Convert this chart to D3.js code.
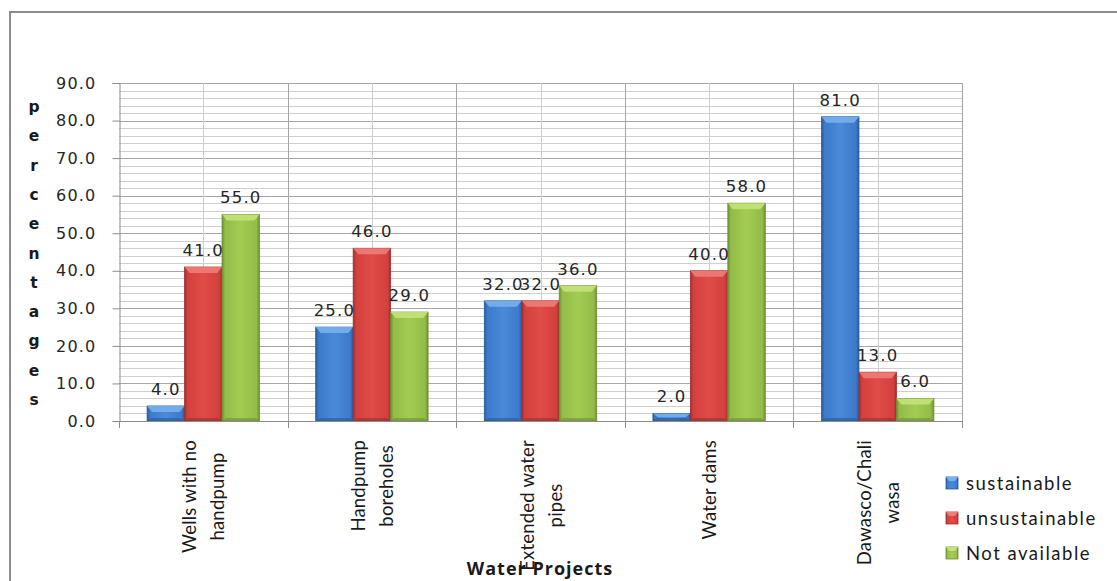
<!DOCTYPE html>
<html>
<head>
<meta charset="utf-8">
<script src="https://cdn.jsdelivr.net/npm/d3@7"></script>
<style>
  body { margin: 0; background: #fff; }
  svg { display: block; }
</style>
</head>
<body>
<script>
// chart data
const categories = ['Wells with no handpump', 'Handpump boreholes', 'Extended water pipes', 'Water dams', 'Dawasco/Chaliwasa'];
const categoryLines = [['Wells with no', 'handpump'], ['Handpump', 'boreholes'], ['Extended water', 'pipes'], ['Water dams'], ['Dawasco/Chali', 'wasa']];
const seriesNames = ['sustainable', 'unsustainable', 'Not available'];
const sustainable = [4.0, 25.0, 32.0, 2.0, 81.0];
const unsustainable = [41.0, 46.0, 32.0, 40.0, 13.0];
const notAvailable = [55.0, 29.0, 36.0, 58.0, 6.0];
const yTickValues = [0, 10, 20, 30, 40, 50, 60, 70, 80, 90];
const yTitle = 'percentages';
const xTitle = 'Water Projects';

// colours: main, edge, top bevel
const palette = [
  { main: '#3c7acb', mid: '#4a8ad8', edge: '#2a5a98', top: '#78b0ec' },
  { main: '#d3403d', mid: '#e04c48', edge: '#9e2e2c', top: '#ee7c78' },
  { main: '#93bc48', mid: '#a2cc52', edge: '#6e8f34', top: '#c4e27a' }
];

function renderChart() {
  const width = 1117;
  const height = 581;
  const plot = { left: 119, right: 962, top: 83, bottom: 421 };
  const labelTop = 440; // rotated category labels hang from here

  const svg = d3.select('body')
    .append('svg')
    .attr('width', width)
    .attr('height', height);

  // outer frame (only top and left edges visible)
  svg.append('path')
    .attr('d', `M10,${height} V12 H${width}`)
    .attr('fill', 'none')
    .attr('stroke', '#8c8c8c')
    .attr('stroke-width', 2);

  // scales
  const x0 = d3.scaleBand()
    .domain(categories)
    .range([plot.left, plot.right])
    .padding(0);

  const groupWidth = x0.bandwidth() * 3 / 4.5;
  const x1 = d3.scaleBand()
    .domain(seriesNames)
    .range([0, groupWidth]);

  const y = d3.scaleLinear()
    .domain([0, 90])
    .range([plot.bottom, plot.top]);

  const values = [sustainable, unsustainable, notAvailable];

  // gradients for the bevelled bars
  const defs = svg.append('defs');
  palette.forEach((c, i) => {
    const g = defs.append('linearGradient')
      .attr('id', 'bar' + i)
      .attr('x1', 0).attr('x2', 1).attr('y1', 0).attr('y2', 0);
    g.append('stop').attr('offset', '0%').attr('stop-color', c.edge);
    g.append('stop').attr('offset', '8%').attr('stop-color', c.main);
    g.append('stop').attr('offset', '50%').attr('stop-color', c.mid);
    g.append('stop').attr('offset', '92%').attr('stop-color', c.main);
    g.append('stop').attr('offset', '100%').attr('stop-color', c.edge);
  });

  // horizontal grid: minor every 2, major every 10
  const grid = svg.append('g');
  d3.range(0, 91, 2).forEach((v) => {
    const major = v % 10 === 0;
    grid.append('line')
      .attr('x1', plot.left).attr('x2', plot.right)
      .attr('y1', Math.round(y(v)) + 0.5).attr('y2', Math.round(y(v)) + 0.5)
      .attr('stroke', major ? '#a6a6a6' : '#cfcfcf')
      .attr('stroke-width', 1);
  });

  // vertical grid: category centres light, boundaries darker
  categories.forEach((c) => {
    const cx = x0(c) + x0.bandwidth() / 2;
    grid.append('line')
      .attr('x1', Math.round(cx) + 0.5).attr('x2', Math.round(cx) + 0.5)
      .attr('y1', plot.top).attr('y2', plot.bottom)
      .attr('stroke', '#cfcfcf');
    const bx = x0(c) + x0.bandwidth();
    grid.append('line')
      .attr('x1', Math.round(bx) + 0.5).attr('x2', Math.round(bx) + 0.5)
      .attr('y1', plot.top).attr('y2', plot.bottom)
      .attr('stroke', '#a6a6a6');
  });

  // bars
  const barsG = svg.append('g');
  categories.forEach((c, ci) => {
    const gx = x0(c) + (x0.bandwidth() - groupWidth) / 2;
    seriesNames.forEach((s, si) => {
      const v = values[si][ci];
      const bx = gx + x1(s);
      const bw = x1.bandwidth();
      const by = y(v);
      const bh = y(0) - y(v);
      const col = palette[si];
      barsG.append('rect')
        .attr('x', bx).attr('y', by)
        .attr('width', bw).attr('height', bh)
        .attr('fill', `url(#bar${si})`)
        .attr('stroke', col.edge)
        .attr('stroke-width', 0.8);
      const bev = Math.min(6, bh / 2);
      barsG.append('polygon')
        .attr('points', [
          [bx, by], [bx + bw, by], [bx + bw - 5, by + bev], [bx + 5, by + bev]
        ].map((p) => p.join(',')).join(' '))
        .attr('fill', col.top)
        .attr('opacity', 0.9);
      barsG.append('polygon')
        .attr('points', [
          [bx, y(0)], [bx + bw, y(0)], [bx + bw - 4, y(0) - Math.min(3, bh / 2)], [bx + 4, y(0) - Math.min(3, bh / 2)]
        ].map((p) => p.join(',')).join(' '))
        .attr('fill', col.edge)
        .attr('opacity', 0.6);

      // value label
      svg.append('text')
        .attr('x', bx + bw / 2)
        .attr('y', by - 11)
        .attr('text-anchor', 'middle')
        .attr('font-family', 'DejaVu Sans, sans-serif')
        .attr('font-size', 16.5)
        .attr('letter-spacing', 1.2)
        .attr('fill', '#262626')
        .text(v.toFixed(1));
    });
  });

  // axes
  const yAxis = d3.axisLeft(y)
    .tickValues(yTickValues)
    .tickSize(7)
    .tickPadding(16)
    .tickFormat((d) => d.toFixed(1));

  const yg = svg.append('g')
    .attr('transform', `translate(${plot.left + 0.5}, 0)`)
    .call(yAxis);
  yg.select('.domain').attr('stroke', '#8c8c8c');
  yg.selectAll('.tick line').attr('stroke', '#8c8c8c');
  yg.selectAll('.tick text')
    .attr('font-family', 'DejaVu Sans, sans-serif')
    .attr('font-size', 16)
    .attr('letter-spacing', 1.2)
    .attr('fill', '#262626');

  const boundaries = [plot.left].concat(categories.map((c) => x0(c) + x0.bandwidth()));
  svg.append('line')
    .attr('x1', plot.left).attr('x2', plot.right)
    .attr('y1', plot.bottom + 0.5).attr('y2', plot.bottom + 0.5)
    .attr('stroke', '#8c8c8c');
  boundaries.forEach((bx) => {
    svg.append('line')
      .attr('x1', Math.round(bx) + 0.5).attr('x2', Math.round(bx) + 0.5)
      .attr('y1', plot.bottom).attr('y2', plot.bottom + 7)
      .attr('stroke', '#8c8c8c');
  });

  // rotated category labels, longest line hangs from labelTop
  categories.forEach((c, ci) => {
    const cx = x0(c) + x0.bandwidth() / 2;
    const lines = categoryLines[ci];
    const t = svg.append('text')
      .attr('text-anchor', 'middle')
      .attr('font-family', 'Lato, sans-serif')
      .attr('font-size', 18.5)
      .attr('letter-spacing', 0.2)
      .attr('fill', '#1a1a1a');
    lines.forEach((l, li) => {
      t.append('tspan')
        .attr('x', 0)
        .attr('y', (li - (lines.length - 1) / 2) * 28)
        .attr('dominant-baseline', 'central')
        .text(l);
    });
    const maxLen = d3.max(t.selectAll('tspan').nodes(), (n) => n.getComputedTextLength());
    t.attr('transform', `translate(${cx}, ${labelTop + maxLen / 2}) rotate(-90)`);
  });

  // y title: stacked letters
  const yt = svg.append('text')
    .attr('text-anchor', 'middle')
    .attr('font-family', 'DejaVu Sans, sans-serif')
    .attr('font-weight', 'bold')
    .attr('font-size', 15.5)
    .attr('fill', '#1a1a1a');
  yTitle.split('').forEach((ch, i) => {
    yt.append('tspan')
      .attr('x', 34)
      .attr('y', 107 + i * 29.3)
      .attr('dominant-baseline', 'central')
      .text(ch);
  });

  // x title
  svg.append('text')
    .attr('x', 540)
    .attr('y', 575)
    .attr('text-anchor', 'middle')
    .attr('font-family', 'Open Sans, sans-serif')
    .attr('font-weight', 'bold')
    .attr('font-size', 18)
    .attr('letter-spacing', 1)
    .attr('fill', '#1a1a1a')
    .text(xTitle);

  // legend
  const legend = svg.append('g').attr('transform', 'translate(946, 483)');
  seriesNames.forEach((s, i) => {
    const row = legend.append('g').attr('transform', `translate(0, ${i * 35})`);
    row.append('rect')
      .attr('x', 0).attr('y', -6)
      .attr('width', 12).attr('height', 12)
      .attr('fill', `url(#bar${i})`)
      .attr('stroke', palette[i].edge)
      .attr('stroke-width', 0.8);
    row.append('polygon')
      .attr('points', '0,-6 12,-6 9,-2 3,-2')
      .attr('fill', palette[i].top);
    row.append('text')
      .attr('x', 20)
      .attr('y', 0)
      .attr('dominant-baseline', 'central')
      .attr('font-family', 'Lato, sans-serif')
      .attr('font-size', 18.5)
      .attr('letter-spacing', 1.5)
      .attr('fill', '#1a1a1a')
      .text(s);
  });
}

renderChart();
</script>
</body>
</html>
